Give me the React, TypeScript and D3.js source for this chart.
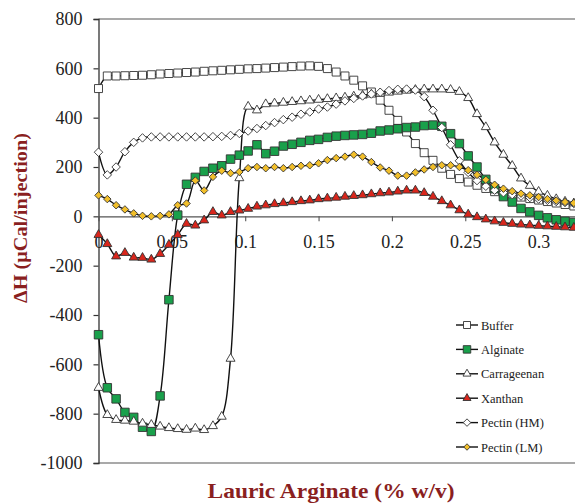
import React, { useEffect, useRef } from "react";
import * as d3 from "d3";

// concentration of lauric arginate (% w/v) at each injection
const conc = [
  0, 0.006, 0.012, 0.018, 0.024, 0.03, 0.036, 0.042, 0.048, 0.054, 0.06,
  0.066, 0.072, 0.078, 0.084, 0.09, 0.096, 0.102, 0.108, 0.114, 0.12, 0.126,
  0.132, 0.138, 0.144, 0.15, 0.156, 0.162, 0.168, 0.174, 0.18, 0.186, 0.192,
  0.198, 0.204, 0.21, 0.216, 0.222, 0.228, 0.234, 0.24, 0.246, 0.252, 0.258,
  0.264, 0.27, 0.276, 0.282, 0.288, 0.294, 0.3, 0.306, 0.312, 0.318, 0.324,
];

const buffer = [
  518, 569, 569, 570, 571, 572, 574, 577, 579, 581, 583, 585, 588, 590, 592,
  594, 596, 598, 599, 601, 603, 605, 607, 609, 610, 608, 599, 585, 569, 552,
  529, 504, 471, 430, 389, 342, 295, 258, 227, 195, 170, 153, 139, 126, 113,
  100, 92, 85, 78, 72, 66, 60, 54, 48, 42,
];

const alginate = [
  -480, -695, -740, -795, -815, -855, -872, -728, -338, 5, 130, 158, 182, 195,
  205, 232, 248, 265, 290, 254, 264, 285, 292, 300, 308, 312, 320, 325, 328,
  330, 332, 337, 346, 350, 355, 360, 362, 368, 370, 365, 335, 295, 245, 200,
  150, 112, 80, 58, 32, 18, 4, -6, -14, -20, -25,
];

const carrageenan = [
  -695, -805, -825, -828, -832, -840, -845, -852, -858, -862, -865, -860, -866,
  -850, -812, -577, 155, 445, 430, 455, 458, 461, 464, 467, 470, 473, 476, 479,
  482, 486, 490, 494, 498, 502, 506, 510, 513, 515, 515, 515, 513, 505, 480,
  415, 362, 300, 250, 205, 154, 124, 100, 84, 70, 60, 53,
];

const xanthan = [
  -75, -112, -162, -148, -167, -168, -175, -152, -115, -75, -30, -37, -16, 18,
  4, 18, 24, 31, 40, 45, 50, 54, 58, 62, 65, 70, 73, 76, 80, 83, 86, 90, 94,
  97, 101, 105, 105, 95, 80, 62, 45, 25, 8, -3, -12, -20, -26, -30, -33, -36,
  -38, -40, -42, -44, -46,
];

const pectinHM = [
  260, 168, 200, 262, 300, 318, 322, 322, 322, 322, 322, 322, 322, 323, 324,
  328, 336, 346, 356, 368, 380, 392, 402, 414, 423, 435, 443, 455, 468, 478,
  488, 496, 503, 510, 515, 516, 512, 485, 430, 360, 290, 225, 178, 145, 122,
  106, 96, 88, 82, 76, 70, 65, 60, 56, 52,
];

const pectinLM = [
  85, 70, 45, 28, 12, 2, 0, 2, 8, 45, 52, 145, 105, 160, 185, 175, 180, 195,
  200, 195, 200, 195, 200, 205, 207, 215, 228, 236, 242, 250, 242, 220, 198,
  185, 165, 165, 178, 190, 200, 207, 207, 200, 187, 168, 148, 128, 112, 102,
  92, 85, 78, 70, 64, 58, 54,
];

const yTicks = [-1000, -800, -600, -400, -200, 0, 200, 400, 600, 800];
const xTicks = [0, 0.05, 0.1, 0.15, 0.2, 0.25, 0.3];

const seriesList = [
  { name: "Buffer", values: buffer, shape: "square", fill: "#ffffff", size: 8 },
  { name: "Alginate", values: alginate, shape: "square", fill: "#19a04b", size: 8.5 },
  { name: "Carrageenan", values: carrageenan, shape: "triangle", fill: "#ffffff", size: 9 },
  { name: "Xanthan", values: xanthan, shape: "triangle", fill: "#d9261c", size: 9 },
  { name: "Pectin (HM)", values: pectinHM, shape: "diamond", fill: "#ffffff", size: 8.5 },
  { name: "Pectin (LM)", values: pectinLM, shape: "diamond", fill: "#f2bf2a", size: 7.5 },
];

const W = 575;
const H = 503;
const FONT = "'Liberation Serif', 'Times New Roman', serif";
const TITLE = "#8a1f1f";

function markerPath(shape: string, size: number) {
  if (shape === "square") return d3.symbol().type(d3.symbolSquare).size(size * size)();
  if (shape === "triangle")
    return d3.symbol().type(d3.symbolTriangle).size((Math.sqrt(3) / 4) * size * size)();
  const h = size / 2;
  return `M0,${-h}L${h},0L0,${h}L${-h},0Z`;
}

const App = () => {
  const ref = useRef<SVGSVGElement>(null);

  useEffect(() => {
    const svg = d3.select(ref.current);
    svg.selectAll("*").remove();

    const x = d3.scaleLinear().domain([0, 0.3248]).range([98.5, 575]);
    const y = d3.scaleLinear().domain([-1000, 800]).range([463, 19]);

    // frame
    svg.append("line").attr("x1", x(0)).attr("x2", W).attr("y1", y(800)).attr("y2", y(800))
      .attr("stroke", "#555").attr("stroke-width", 1.2);
    svg.append("line").attr("x1", x(0)).attr("x2", W).attr("y1", y(-1000)).attr("y2", y(-1000))
      .attr("stroke", "#555").attr("stroke-width", 1.2);

    // y axis
    const yAxis = svg.append("g").attr("transform", `translate(${x(0)},0)`)
      .call(d3.axisLeft(y).tickValues(yTicks).tickSize(5).tickFormat((d) => String(d)));
    yAxis.attr("font-family", FONT);
    yAxis.select(".domain").attr("stroke", "#333").attr("stroke-width", 1.3);
    yAxis.selectAll(".tick line").attr("stroke", "#333").attr("stroke-width", 1.2);
    yAxis.selectAll(".tick text").attr("x", -16).attr("font-family", FONT)
      .attr("font-size", 18).attr("fill", "#222");

    // x axis crossing at zero
    const xAxis = svg.append("g").attr("transform", `translate(0,${y(0)})`)
      .call(d3.axisBottom(x).tickValues(xTicks).tickSize(5).tickSizeOuter(0)
        .tickFormat((d) => String(+d)));
    xAxis.attr("font-family", FONT);
    xAxis.select(".domain").attr("stroke", "#555").attr("stroke-width", 1.2);
    xAxis.selectAll(".tick line").attr("stroke", "#555").attr("stroke-width", 1.1);
    xAxis.selectAll(".tick text").attr("y", 19).attr("font-family", FONT)
      .attr("font-size", 18).attr("fill", "#222");

    // series
    const line = d3.line<number>()
      .x((_, i) => x(conc[i]))
      .y((d) => y(d))
      .curve(d3.curveCatmullRom.alpha(0.5));

    seriesList.forEach((s) => {
      svg.append("path").datum(s.values).attr("d", line).attr("fill", "none")
        .attr("stroke", "#111").attr("stroke-width", 1.4);
    });
    seriesList.forEach((s) => {
      svg.append("g").selectAll("path").data(s.values).join("path")
        .attr("d", markerPath(s.shape, s.size))
        .attr("transform", (d, i) => `translate(${x(conc[i])},${y(d)})`)
        .attr("fill", s.fill).attr("stroke", "#333").attr("stroke-width", 0.9);
    });

    // legend
    const lg = svg.append("g");
    seriesList.forEach((s, i) => {
      const ly = 325 + i * 24.4;
      lg.append("line").attr("x1", 456).attr("x2", 478).attr("y1", ly).attr("y2", ly)
        .attr("stroke", "#111").attr("stroke-width", 1.4);
      lg.append("path").attr("d", markerPath(s.shape, s.size - 1))
        .attr("transform", `translate(467,${ly})`)
        .attr("fill", s.fill).attr("stroke", "#333").attr("stroke-width", 0.9);
      lg.append("text").attr("x", 481).attr("y", ly + 4.5).text(s.name)
        .attr("font-family", FONT).attr("font-size", 12.5).attr("fill", "#222");
    });

    // titles
    svg.append("text").attr("x", 331).attr("y", 498).attr("text-anchor", "middle")
      .attr("font-family", FONT).attr("font-weight", "bold").attr("font-size", 21)
      .attr("textLength", 247).attr("lengthAdjust", "spacingAndGlyphs")
      .attr("fill", TITLE).text("Lauric Arginate (% w/v)");
    svg.append("text").attr("transform", "translate(27,218) rotate(-90)")
      .attr("text-anchor", "middle").attr("font-family", FONT).attr("font-weight", "bold")
      .attr("font-size", 18.5).attr("textLength", 170).attr("lengthAdjust", "spacingAndGlyphs")
      .attr("fill", TITLE).text("ΔH (μCal/injection)");
  }, []);

  return (
    <svg ref={ref} width={W} height={H}
      style={{ position: "absolute", left: 0, top: 0, background: "#fff" }} />
  );
};

export default App;
